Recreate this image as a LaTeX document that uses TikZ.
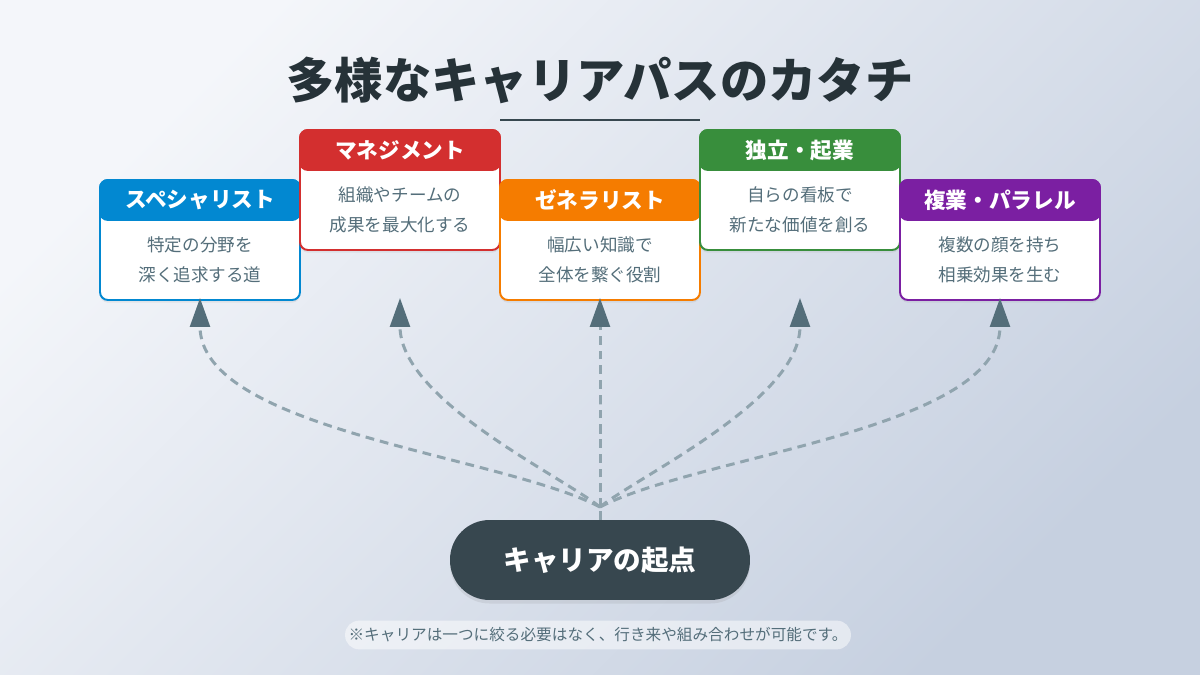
\documentclass[tikz,border=0pt]{standalone}
\usepackage{fontspec}
\setmainfont{Noto Sans CJK JP}
\usetikzlibrary{positioning,arrows.meta,shadows}
\definecolor{inkDark}{HTML}{263238}
\definecolor{slateDark}{HTML}{37474F}
\definecolor{slateText}{HTML}{546E7A}
\definecolor{linkGray}{HTML}{90A4AE}
\definecolor{tipGray}{HTML}{546E7A}
\definecolor{specBlue}{HTML}{0288D1}
\definecolor{mgmtRed}{HTML}{D32F2F}
\definecolor{genOrange}{HTML}{F57C00}
\definecolor{indepGreen}{HTML}{388E3C}
\definecolor{sidePurple}{HTML}{7B1FA2}
\definecolor{bgLight}{HTML}{F4F6FA}
\definecolor{bgDark}{HTML}{C6D0E0}

\begin{document}
\begin{tikzpicture}[x=0.02cm, y=-0.02cm, >=Stealth,
    card/.style={draw=#1, line width=1.1pt, fill=white, rounded corners=4.5pt,
      minimum width=4cm, minimum height=2.4cm,
      drop shadow={opacity=0.12, shadow xshift=0pt, shadow yshift=-1.5pt}},
    cardhead/.style={fill=#1, draw=#1, line width=1.1pt, rounded corners=4.5pt,
      minimum width=4cm, minimum height=0.8cm, inner sep=0pt, text=white,
      font=\fontsize{12.3}{14}\selectfont\bfseries},
    cardtext/.style={align=center, text=slateText, font=\fontsize{10}{17}\selectfont},
    link/.style={draw=linkGray, line width=1.7pt, dash pattern=on 5pt off 3.4pt,
      -{Triangle[length=16.5pt, width=11.3pt, color=tipGray]}}]
  % background and page frame
  \shade[top color=bgLight, bottom color=bgDark, shading angle=45] (0,0) rectangle (1200,675);
  \useasboundingbox (0,0) rectangle (1200,675);

  % title with rule under it
  \node[font=\fontsize{27.5}{32}\selectfont\bfseries, text=inkDark] (title) at (600,80) {多様なキャリアパスのカタチ};
  \draw[slateDark, line width=1.7pt] (500,120) -- (700,120);

  % five career cards, staggered up and down
  \foreach \n/\x/\y/\c/\head/\body in {
      spec/200/180/specBlue/スペシャリスト/{特定の分野を\\深く追求する道},
      mgmt/400/130/mgmtRed/マネジメント/{組織やチームの\\成果を最大化する},
      gen/600/180/genOrange/ゼネラリスト/{幅広い知識で\\全体を繋ぐ役割},
      indep/800/130/indepGreen/独立・起業/{自らの看板で\\新たな価値を創る},
      side/1000/180/sidePurple/複業・パラレル/{複数の顔を持ち\\相乗効果を生む}} {
    \node[card=\c] (\n) at (\x,\y+60) {};
    \node[cardhead=\c, anchor=north] (\n-head) at (\n.north) {\head};
    \node[cardtext] (\n-text) at (\x,\y+80) {\body};
    \coordinate (\n-tip) at (\x,298);
  }

  % starting point
  \node[fill=slateDark, rounded corners=22.5pt, minimum width=6cm, minimum height=1.6cm,
    text=white, font=\fontsize{15.7}{18}\selectfont\bfseries,
    drop shadow={opacity=0.15, shadow xshift=0pt, shadow yshift=-2pt}] (origin) at (600,560) {キャリアの起点};
  \coordinate (hub) at (600,507);
  \draw[linkGray, line width=1.7pt, dash pattern=on 5pt off 3.4pt] (origin.north) -- (hub);

  % dashed paths fanning out to every card
  \foreach \n/\ax/\ay/\bx/\by in {spec/500/455/200/430, mgmt/560/475/400/400,
      gen/600/450/600/380, indep/640/475/800/400, side/700/455/1000/430}
    \draw[link] (hub) .. controls (\ax,\ay) and (\bx,\by) .. (\n-tip);

  \node[fill=white, fill opacity=0.5, text opacity=1, rounded corners=8pt, inner xsep=2pt, inner ysep=4pt,
    text=slateText, font=\fontsize{8.9}{10}\selectfont] (note) at (598,635)
    {※キャリアは一つに絞る必要はなく、行き来や組み合わせが可能です。};
\end{tikzpicture}
\end{document}
